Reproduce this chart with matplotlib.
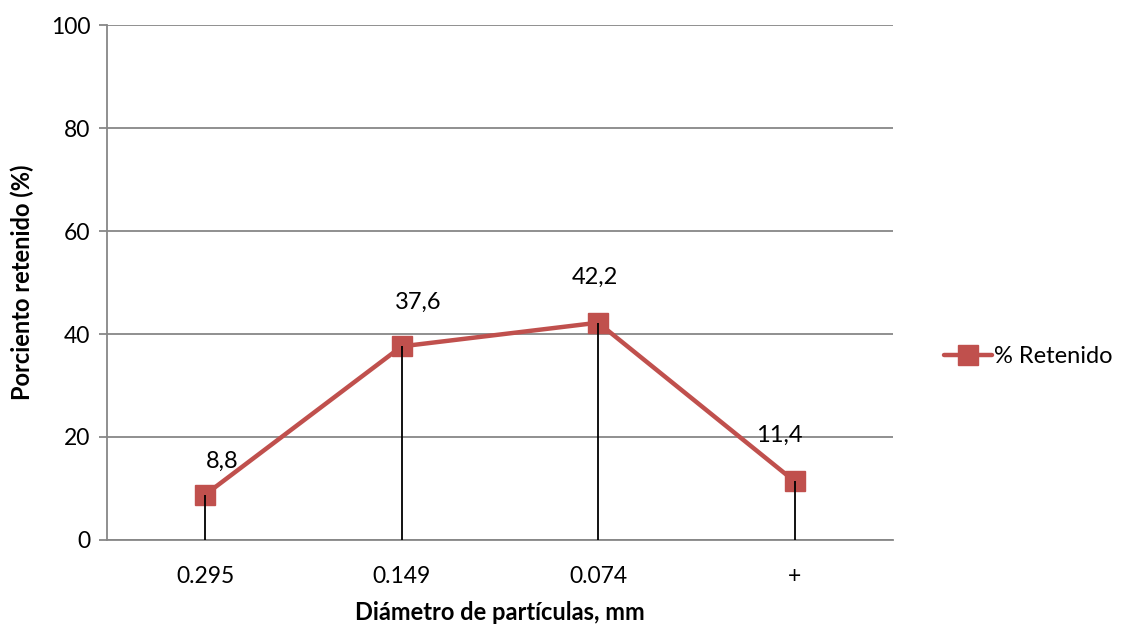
import matplotlib
matplotlib.use('Agg')
import matplotlib.pyplot as plt
import numpy as np

plt.rcParams['font.family'] = ['Lato', 'DejaVu Sans']

# datos
diametros = ['0.295', '0.149', '0.074', '+']
retenido = [8.8, 37.6, 42.2, 11.4]
etiquetas = ['8,8', '37,6', '42,2', '11,4']
# desplazamiento de etiquetas (pt)
desp = [(12, 24), (12, 32), (-2, 33), (-11, 33)]

rojo = '#C0504D'
gris = '#878787'

fig = plt.figure(figsize=(11.23, 6.26), dpi=100)
ax = fig.add_axes([0.0953, 0.1374, 0.6997, 0.8226])

x = np.arange(len(diametros))
ax.plot(x, retenido, color=rojo, lw=3.2, marker='s', ms=14,
        markerfacecolor=rojo, markeredgecolor=rojo, label='% Retenido',
        zorder=3, solid_capstyle='round')
ax.vlines(x, 0, retenido, color='black', lw=1.3, zorder=4)

for xi, yi, txt, d in zip(x, retenido, etiquetas, desp):
    ax.annotate(txt, (xi, yi), xytext=d, textcoords='offset points',
                ha='center', va='center', fontsize=17, zorder=5)

ax.set_xlim(-0.5, len(diametros) - 0.5)
ax.set_ylim(0, 100)
ax.set_yticks(np.arange(0, 101, 20))
ax.set_xticks(x)
ax.set_xticklabels(diametros)
ax.yaxis.grid(True, color=gris, lw=1.3)
ax.set_axisbelow(True)
for s in ['top', 'right']:
    ax.spines[s].set_visible(False)
ax.spines['left'].set_color(gris)
ax.spines['bottom'].set_color(gris)
ax.spines['left'].set_linewidth(1.3)
ax.spines['bottom'].set_linewidth(1.3)
ax.tick_params(axis='y', length=6, color=gris, width=1.3, labelsize=16.5, pad=6)
ax.tick_params(axis='x', length=0, labelsize=16.5, pad=19)

ax.set_xlabel('Diámetro de partículas, mm', fontsize=17, fontweight='bold', labelpad=10)
ax.set_ylabel('Porciento retenido (%)', fontsize=17, fontweight='bold', labelpad=12)

leg = fig.legend(loc='center left', bbox_to_anchor=(0.822, 0.43), frameon=False,
                 fontsize=17, handlelength=2.0, handletextpad=0.1)

fig.savefig('out.png', dpi=100)
